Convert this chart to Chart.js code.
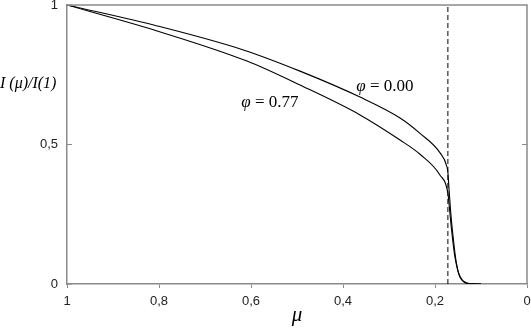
<!DOCTYPE html>
<html>
<head>
<meta charset="utf-8">
<script src="https://cdn.jsdelivr.net/npm/chart.js@4/dist/chart.umd.min.js"></script>
<style>
  html, body { margin: 0; padding: 0; background: #fff; }
  #wrap { width: 531px; height: 332px; }
</style>
</head>
<body>
<div id="wrap"><canvas id="chart"></canvas></div>
<script>
// curve phi = 0.00 (upper one)
const muPhi0 = [0.1, 0.12, 0.13, 0.138, 0.145, 0.150, 0.154, 0.158, 0.162, 0.166, 0.1695, 0.172, 0.174, 0.189, 0.2326, 0.276, 0.363, 0.4935, 0.615, 0.804, 1];
const iPhi0 = [0, 0.0005, 0.002, 0.008, 0.022, 0.045, 0.08, 0.13, 0.19, 0.26, 0.34, 0.40, 0.42, 0.47, 0.54, 0.595, 0.670, 0.763, 0.838, 0.925, 1];

// curve phi = 0.77 (lower one)
const muPhi77 = [0.1, 0.115, 0.125, 0.133, 0.141, 0.147, 0.152, 0.157, 0.161, 0.165, 0.1685, 0.172, 0.189, 0.2326, 0.276, 0.363, 0.4935, 0.6087, 0.804, 1];
const iPhi77 = [0, 0.0003, 0.0015, 0.005, 0.015, 0.032, 0.06, 0.10, 0.15, 0.21, 0.27, 0.326, 0.39, 0.465, 0.516, 0.606, 0.713, 0.799, 0.907, 1];

// dashed vertical marker
const muCrit = [0.172, 0.172];
const iCrit = [0, 1];

const xTicks = [0, 0.2, 0.4, 0.6, 0.8, 1];
const yTicks = [0, 0.5, 1];

const curveLabels = ["φ = 0.00", "φ = 0.77"];
const labelMu = [0.309, 0.559];
const labelI = [0.706, 0.652];

function toPoints(xs, ys) {
  return xs.map((x, i) => ({ x: x, y: ys[i] }));
}

function fmt(v) {
  return String(Math.round(v * 10) / 10).replace(".", ",");
}

const axisColor = "#8a8a8a";

const decorPlugin = {
  id: "decor",
  afterDraw(chart) {
    const ctx = chart.ctx;
    const a = chart.chartArea;
    const ys = chart.scales.y;
    ctx.save();
    // frame top + right
    ctx.strokeStyle = axisColor;
    ctx.lineWidth = 1.5;
    ctx.beginPath();
    ctx.moveTo(a.left, a.top);
    ctx.lineTo(a.right, a.top);
    ctx.lineTo(a.right, a.bottom);
    ctx.stroke();
    // inward y ticks
    ctx.lineWidth = 1;
    yTicks.forEach((v) => {
      const py = ys.getPixelForValue(v);
      ctx.beginPath();
      ctx.moveTo(a.left, py);
      ctx.lineTo(a.left + 5, py);
      ctx.stroke();
      if (v > 0 && v < 1) {
        ctx.beginPath();
        ctx.moveTo(a.right, py);
        ctx.lineTo(a.right - 5, py);
        ctx.stroke();
      }
    });
    // y axis label
    ctx.fillStyle = "#000";
    ctx.font = "italic 16px 'Liberation Serif'";
    ctx.textBaseline = "middle";
    ctx.textAlign = "left";
    ctx.fillText("I (μ)/I(1)", 0, 84);
    // curve labels
    curveLabels.forEach((t, i) => {
      const px = chart.scales.x.getPixelForValue(labelMu[i]);
      const py = ys.getPixelForValue(labelI[i]);
      const sym = t.slice(0, 1);
      const rest = t.slice(1);
      ctx.font = "italic 17px 'Liberation Serif'";
      const w1 = ctx.measureText(sym).width;
      ctx.font = "17px 'Liberation Serif'";
      const w2 = ctx.measureText(rest).width;
      let x0 = px - (w1 + w2) / 2;
      ctx.font = "italic 17px 'Liberation Serif'";
      ctx.fillText(sym, x0, py);
      ctx.font = "17px 'Liberation Serif'";
      ctx.fillText(rest, x0 + w1, py);
    });
    ctx.restore();
  }
};

const lineStyle = {
  showLine: true,
  borderColor: "#000",
  borderWidth: 1.1,
  pointRadius: 0,
  fill: false,
  cubicInterpolationMode: "monotone"
};

new Chart(document.getElementById("chart"), {
  type: "scatter",
  data: {
    datasets: [
      Object.assign({ label: curveLabels[0], data: toPoints(muPhi0, iPhi0) }, lineStyle),
      Object.assign({ label: curveLabels[1], data: toPoints(muPhi77, iPhi77) }, lineStyle),
      {
        label: "crit",
        data: toPoints(muCrit, iCrit),
        showLine: true,
        borderColor: "#000",
        borderWidth: 1,
        borderDash: [5, 3],
        pointRadius: 0
      }
    ]
  },
  options: {
    responsive: true,
    maintainAspectRatio: false,
    animation: false,
    layout: { padding: { top: 5, right: 4, left: 0, bottom: 0 } },
    plugins: {
      legend: { display: false },
      tooltip: { enabled: false }
    },
    scales: {
      x: {
        type: "linear",
        reverse: true,
        min: 0,
        max: 1,
        afterBuildTicks: (s) => { s.ticks = xTicks.map((v) => ({ value: v })); },
        afterFit: (s) => { s.height = 48; s.paddingLeft = 0; s.paddingRight = 0; },
        ticks: {
          callback: (v) => fmt(v),
          color: "#222",
          font: { family: "'Liberation Sans'", size: 13 },
          padding: 6,
          maxRotation: 0
        },
        grid: { drawOnChartArea: false, tickLength: 4, color: axisColor },
        border: { color: axisColor, width: 1.5 },
        title: {
          display: true,
          text: "μ",
          color: "#000",
          font: { family: "'Liberation Serif'", style: "italic", size: 21 },
          padding: { top: 0 }
        }
      },
      y: {
        min: 0,
        max: 1,
        afterBuildTicks: (s) => { s.ticks = yTicks.map((v) => ({ value: v })); },
        afterFit: (s) => { s.width = 67; s.paddingTop = 0; s.paddingBottom = 0; },
        ticks: {
          callback: (v) => fmt(v),
          color: "#222",
          font: { family: "'Liberation Sans'", size: 13 },
          padding: 9
        },
        grid: { drawOnChartArea: false, drawTicks: false, tickLength: 0 },
        border: { color: axisColor, width: 1.5 }
      }
    }
  },
  plugins: [decorPlugin]
});
</script>
</body>
</html>
